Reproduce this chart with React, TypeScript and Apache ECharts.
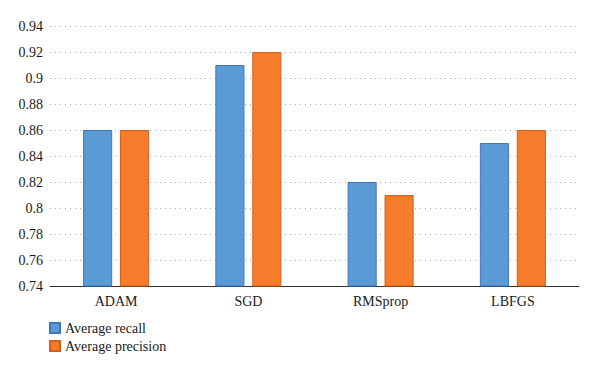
import React, { useEffect, useRef } from "react";
import * as echarts from "echarts";

const categories = ["ADAM", "SGD", "RMSprop", "LBFGS"];
const recall = [0.86, 0.91, 0.82, 0.85];
const precision = [0.86, 0.92, 0.81, 0.86];
const yTicks = { min: 0.74, max: 0.94, interval: 0.02 };

export default function App() {
  const ref = useRef<HTMLDivElement>(null);
  useEffect(() => {
    const chart = echarts.init(ref.current!, null, { renderer: "svg" });
    const font = "Liberation Serif";
    chart.setOption({
      animation: false,
      backgroundColor: "#ffffff",
      textStyle: { fontFamily: font },
      grid: { left: 50, right: 21, top: 26, bottom: 87 },
      legend: {
        orient: "vertical",
        left: 49,
        top: 321,
        padding: 0,
        itemWidth: 10,
        itemHeight: 10,
        itemGap: 4,
        icon: "rect",
        textStyle: { fontFamily: font, fontSize: 14, color: "#1a1a1a", lineHeight: 13 },
        data: ["Average recall", "Average precision"],
      },
      xAxis: {
        type: "category",
        data: categories,
        axisLine: { lineStyle: { color: "#333", width: 1 } },
        axisTick: { show: false },
        axisLabel: { fontFamily: font, fontSize: 14, color: "#1a1a1a", margin: 8 },
      },
      yAxis: {
        type: "value",
        min: yTicks.min,
        max: yTicks.max,
        interval: yTicks.interval,
        axisLine: { show: false },
        axisTick: { show: false },
        axisLabel: {
          fontFamily: font,
          fontSize: 14,
          color: "#1a1a1a",
          margin: 7,
          formatter: (v: number) => String(parseFloat(v.toFixed(2))),
        },
        splitLine: { lineStyle: { color: "#aaa", type: [1, 4], width: 1 } },
      },
      series: [
        {
          name: "Average recall",
          type: "bar",
          data: recall,
          barWidth: "22%",
          barGap: "27%",
          itemStyle: { color: "#5B9BD5", borderColor: "#3F74C0", borderWidth: 1 },
        },
        {
          name: "Average precision",
          type: "bar",
          data: precision,
          barWidth: "22%",
          itemStyle: { color: "#F47C2A", borderColor: "#D2601C", borderWidth: 1 },
        },
      ],
    });
    return () => chart.dispose();
  }, []);
  return <div ref={ref} style={{ width: 600, height: 373, position: "absolute", left: 0, top: 0 }} />;
}
